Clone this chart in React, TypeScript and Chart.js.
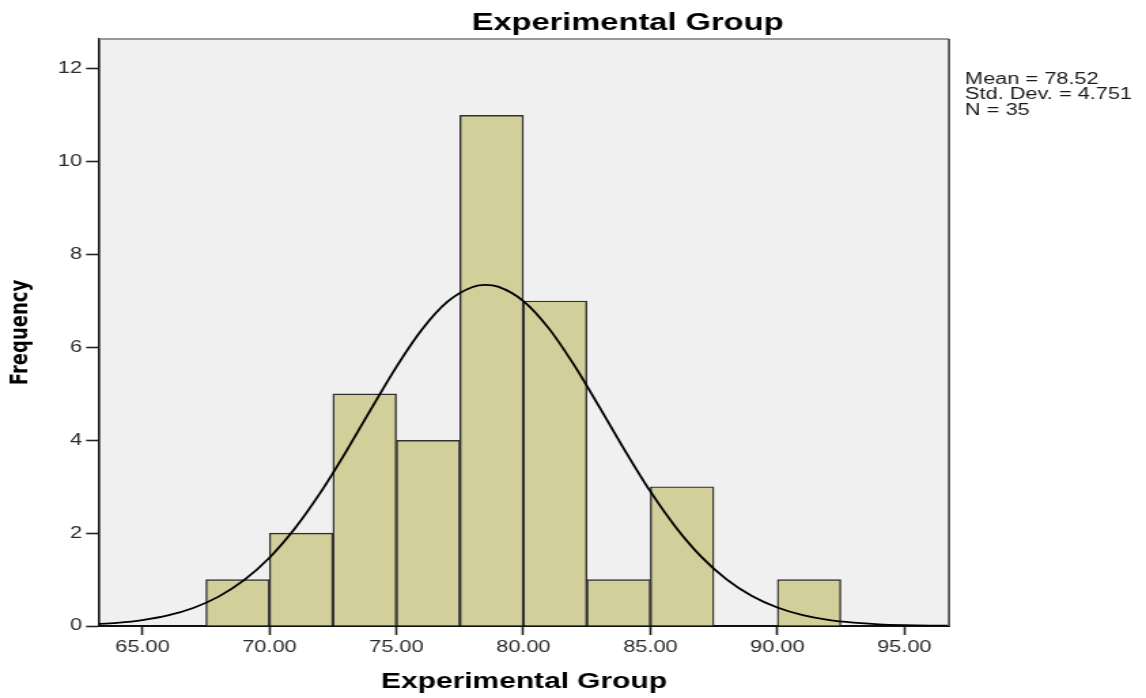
import React, { useEffect, useRef } from 'react';
import { Chart, registerables } from 'chart.js';

Chart.register(...registerables);

// ---- data ----
const binCenters = [68.75, 71.25, 73.75, 76.25, 78.75, 81.25, 83.75, 86.25, 88.75, 91.25];
const binCounts = [1, 2, 5, 4, 11, 7, 1, 3, 0, 1];

const curveX = [63, 64, 65, 66, 67, 68, 69, 70, 71, 72, 73, 74, 75, 76, 77, 78, 78.52, 79, 80, 81, 82, 83, 84, 85, 86, 87, 88, 89, 90, 91, 92, 93, 94, 95, 96, 97];
const curveY = [0.035, 0.069, 0.128, 0.228, 0.389, 0.633, 0.987, 1.472, 2.1, 2.866, 3.741, 4.673, 5.584, 6.383, 6.981, 7.303, 7.347, 7.31, 7.0, 6.412, 5.618, 4.71, 3.778, 2.898, 2.128, 1.494, 1.004, 0.645, 0.397, 0.233, 0.131, 0.071, 0.036, 0.018, 0.008, 0.004];

const xTickValues = [65, 70, 75, 80, 85, 90, 95];
const yTickValues = [0, 2, 4, 6, 8, 10, 12];

const chartTitle = 'Experimental Group';
const xAxisTitle = 'Experimental Group';
const yAxisTitle = 'Frequency';
const statsLines = ['Mean = 78.52', 'Std. Dev. = 4.751', 'N = 35'];

// ---- layout ----
const CSS_W = 1146;
const H = 698;
const STRETCH = 1.3594;
const W = Math.round(CSS_W / STRETCH);
const SANS = "'Liberation Sans', Arial, Helvetica, sans-serif";

const decorPlugin = {
  id: 'decor',
  beforeDraw(chart: any) {
    const { ctx, chartArea } = chart;
    const { left, top, right, bottom } = chartArea;
    ctx.save();
    ctx.fillStyle = '#f0f0f0';
    ctx.fillRect(left, top, right - left, bottom - top);
    ctx.restore();
  },
  afterDraw(chart: any) {
    const { ctx, chartArea } = chart;
    const { left, top, right, bottom } = chartArea;
    ctx.save();
    // frame top & right
    ctx.strokeStyle = '#7a7a7a';
    ctx.lineWidth = 1.5;
    ctx.beginPath();
    ctx.moveTo(left, top);
    ctx.lineTo(right, top);
    ctx.stroke();
    ctx.strokeStyle = '#555555';
    ctx.lineWidth = 1.8;
    ctx.beginPath();
    ctx.moveTo(right, top);
    ctx.lineTo(right, bottom);
    ctx.stroke();

    // main title
    ctx.fillStyle = '#000';
    ctx.font = `bold 24px ${SANS}`;
    ctx.textAlign = 'center';
    ctx.textBaseline = 'alphabetic';
    ctx.fillText(chartTitle, 627.5 / STRETCH, 29.5);

    // stats
    ctx.font = `16px ${SANS}`;
    ctx.textAlign = 'left';
    ctx.fillStyle = '#1a1a1a';
    const baselines = [83.5, 99, 114.5];
    statsLines.forEach((t, i) => ctx.fillText(t, 965 / STRETCH, baselines[i]));
    ctx.restore();
  },
};

export default function App() {
  const ref = useRef<HTMLCanvasElement | null>(null);

  useEffect(() => {
    if (!ref.current) return;
    const barData = binCenters.map((x, i) => ({ x, y: binCounts[i] }));
    const lineData = curveX.map((x, i) => ({ x, y: curveY[i] }));

    const chart = new Chart(ref.current, {
      type: 'bar',
      data: {
        datasets: [
          {
            type: 'line',
            data: lineData,
            borderColor: '#000',
            borderWidth: 1.8,
            pointRadius: 0,
            cubicInterpolationMode: 'monotone',
            fill: false,
            order: 0,
          } as any,
          {
            type: 'bar',
            data: barData,
            backgroundColor: '#d3cf9a',
            borderColor: '#303030',
            borderWidth: 1.4,
            categoryPercentage: 1,
            barPercentage: 1,
            order: 1,
          } as any,
        ],
      },
      options: {
        animation: false,
        responsive: false,
        maintainAspectRatio: false,
        devicePixelRatio: 1,
        layout: { padding: { left: 0, right: W - 949 / STRETCH, top: 39, bottom: 0 } },
        plugins: {
          legend: { display: false },
          tooltip: { enabled: false },
          title: { display: false },
        },
        scales: {
          x: {
            type: 'linear',
            min: 63.29,
            max: 96.76,
            offset: false,
            grid: {
              display: true,
              drawOnChartArea: false,
              drawTicks: true,
              tickLength: 9,
              tickWidth: 1.6,
              tickColor: '#222',
              offset: false,
            },
            border: { display: true, color: '#111', width: 2 },
            ticks: {
              font: { family: SANS, size: 16 },
              color: '#2a2a2a',
              padding: 2.5,
              maxRotation: 0,
              autoSkip: false,
              callback: (v: any) => Number(v).toFixed(2),
            },
            afterBuildTicks: (s: any) => {
              s.ticks = xTickValues.map((v) => ({ value: v }));
            },
            afterFit: (s: any) => {
              s.height = H - 626;
            },
            title: {
              display: true,
              text: xAxisTitle,
              font: { family: SANS, size: 22, weight: 'bold' },
              color: '#000',
              padding: { top: 0, bottom: 3 },
            },
          } as any,
          y: {
            type: 'linear',
            min: 0,
            max: 12.645,
            grid: {
              display: true,
              drawOnChartArea: false,
              drawTicks: true,
              tickLength: 9.5,
              tickWidth: 1.6,
              tickColor: '#222',
            },
            border: { display: true, color: '#111', width: 1.6 },
            ticks: {
              font: { family: SANS, size: 16 },
              color: '#2a2a2a',
              padding: 3,
              callback: (v: any) => String(v),
            },
            afterBuildTicks: (s: any) => {
              s.ticks = yTickValues.map((v) => ({ value: v }));
            },
            afterFit: (s: any) => {
              s.width = 99 / STRETCH;
            },
            title: {
              display: true,
              text: yAxisTitle,
              font: { family: "'DejaVu Sans', sans-serif", size: 18, weight: 'bold' },
              color: '#000',
              padding: { top: 5, bottom: 0 },
            },
          } as any,
        },
      },
      plugins: [decorPlugin],
    });
    return () => chart.destroy();
  }, []);

  return (
    <div style={{ position: 'fixed', left: 0, top: 0, width: CSS_W, height: H, background: '#fff' }}>
      <canvas
        ref={ref}
        width={W}
        height={H}
        style={{ width: `${CSS_W}px`, height: `${H}px`, display: 'block' }}
      />
    </div>
  );
}
